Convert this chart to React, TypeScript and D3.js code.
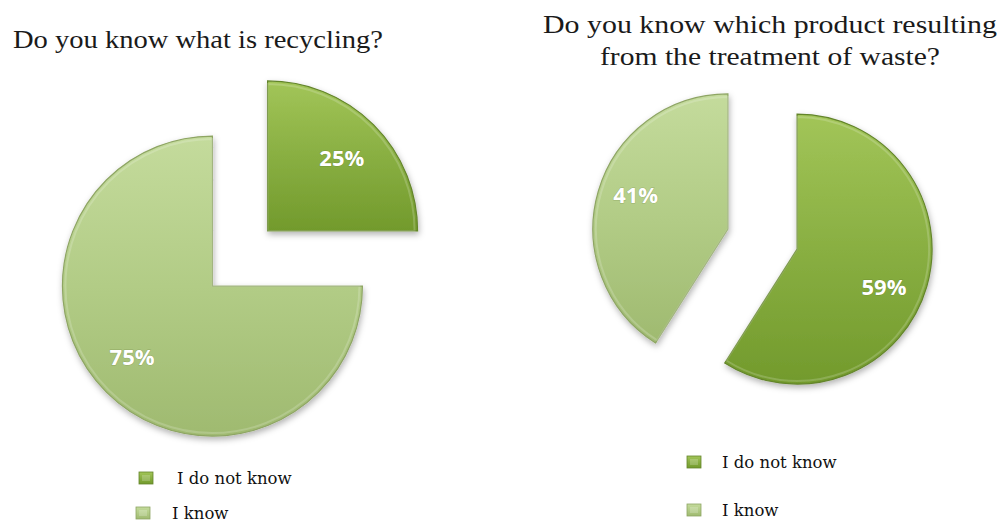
import React from 'react';
import * as d3 from 'd3';

const categories = ["I do not know", "I know"];
const recyclingValues = [25, 75];
const wasteValues = [59, 41];
const recyclingTitle = ["Do you know what is recycling?"];
const wasteTitle = ["Do you know which product resulting", "from the treatment of waste?"];

const fills = ["url(#gDark)", "url(#gLight)"];
const strokes = ["#64852c", "#8ea564"];
const TITLE_FONT = { fontFamily: '"Liberation Serif", "Times New Roman", Times, serif' };
const LEGEND_FONT = { fontFamily: '"DejaVu Serif", serif' };

type PieProps = {
  cx: number; cy: number; r: number; explode: number;
  values: number[]; labelFrac: number[]; labelShift: number[];
};

function Pie({ cx, cy, r, explode, values, labelFrac, labelShift }: PieProps) {
  const arcs = d3.pie<number>().sort(null).value((d) => d)(values);
  const arcGen = d3.arc<d3.PieArcDatum<number>>().innerRadius(0).outerRadius(r);
  const innerGen = d3.arc<d3.PieArcDatum<number>>().innerRadius(0).outerRadius(r - 3);
  const total = d3.sum(values);
  return (
    <g>
      {arcs.map((a, i) => {
        const mid = (a.startAngle + a.endAngle) / 2;
        const ox = cx + Math.sin(mid) * explode;
        const oy = cy - Math.cos(mid) * explode;
        const la = mid + labelShift[i];
        const lr = r * labelFrac[i];
        return (
          <g key={i} transform={`translate(${ox},${oy})`}>
            <path d={arcGen(a) || ''} fill={fills[i]} stroke={strokes[i]} strokeWidth={1.2} filter="url(#shadow)" />
            <path d={innerGen(a) || ''} fill="none" stroke="#ffffff" strokeOpacity={0.18} strokeWidth={2} />
            <text x={Math.sin(la) * lr} y={-Math.cos(la) * lr} textAnchor="middle" dominantBaseline="central"
              fontFamily="'Open Sans', sans-serif" fontWeight={700} fontSize={22} fill="#ffffff"
              style={{ paintOrder: 'stroke' }} stroke="rgba(60,80,20,0.25)" strokeWidth={1}>
              {`${Math.round((values[i] / total) * 100)}%`}
            </text>
          </g>
        );
      })}
    </g>
  );
}

function Legend({ x, y, gap, textDx }: { x: number[]; y: number; gap: number; textDx: number[] }) {
  return (
    <g>
      {categories.map((c, i) => (
        <g key={c} transform={`translate(0,${y + i * gap})`}>
          <rect x={x[i]} y={-12} width={14} height={12} fill={fills[i]} stroke={strokes[i]} strokeWidth={0.8} />
          <rect x={x[i] + 3} y={-9} width={8} height={6} fill="#ffffff" fillOpacity={0.2} />
          <text x={x[i] + textDx[i]} y={0} style={LEGEND_FONT} fontSize={16.5} fill="#111">
            {c}
          </text>
        </g>
      ))}
    </g>
  );
}

export default function App() {
  return (
    <div style={{ position: 'absolute', left: 0, top: 0 }}>
      <svg width={1003} height={523} style={{ display: 'block', background: '#ffffff' }}>
        <defs>
          <linearGradient id="gDark" x1="0" y1="0" x2="0" y2="1">
            <stop offset="0" stopColor="#a2c558" />
            <stop offset="0.5" stopColor="#89af42" />
            <stop offset="1" stopColor="#729a2c" />
          </linearGradient>
          <linearGradient id="gLight" x1="0" y1="0" x2="0" y2="1">
            <stop offset="0" stopColor="#c4db9c" />
            <stop offset="0.5" stopColor="#b2cc86" />
            <stop offset="1" stopColor="#9fba70" />
          </linearGradient>
          <filter id="shadow" x="-20%" y="-20%" width="140%" height="140%">
            <feDropShadow dx="1" dy="3" stdDeviation="3" floodColor="#000" floodOpacity="0.3" />
          </filter>
        </defs>

        <text x={13} y={48} style={TITLE_FONT} fontSize={25} fill="#1a1a1a"
          textLength={370} lengthAdjust="spacingAndGlyphs">
          {recyclingTitle[0]}
        </text>
        <text x={770} y={33} textAnchor="middle" style={TITLE_FONT} fontSize={25} fill="#1a1a1a"
          textLength={454} lengthAdjust="spacingAndGlyphs">
          {wasteTitle[0]}
        </text>
        <text x={770} y={65} textAnchor="middle" style={TITLE_FONT} fontSize={25} fill="#1a1a1a"
          textLength={340} lengthAdjust="spacingAndGlyphs">
          {wasteTitle[1]}
        </text>

        <Pie cx={240} cy={258.5} r={150} explode={39} values={recyclingValues}
          labelFrac={[0.7, 0.71]} labelShift={[0, 0.07]} />
        <Pie cx={762.5} cy={239} r={135} explode={36} values={wasteValues}
          labelFrac={[0.7, 0.73]} labelShift={[0.12, 0.075]} />

        <Legend x={[139, 136]} y={484} gap={35} textDx={[38, 36]} />
        <Legend x={[687, 687]} y={468} gap={48} textDx={[35, 35]} />
      </svg>
    </div>
  );
}
